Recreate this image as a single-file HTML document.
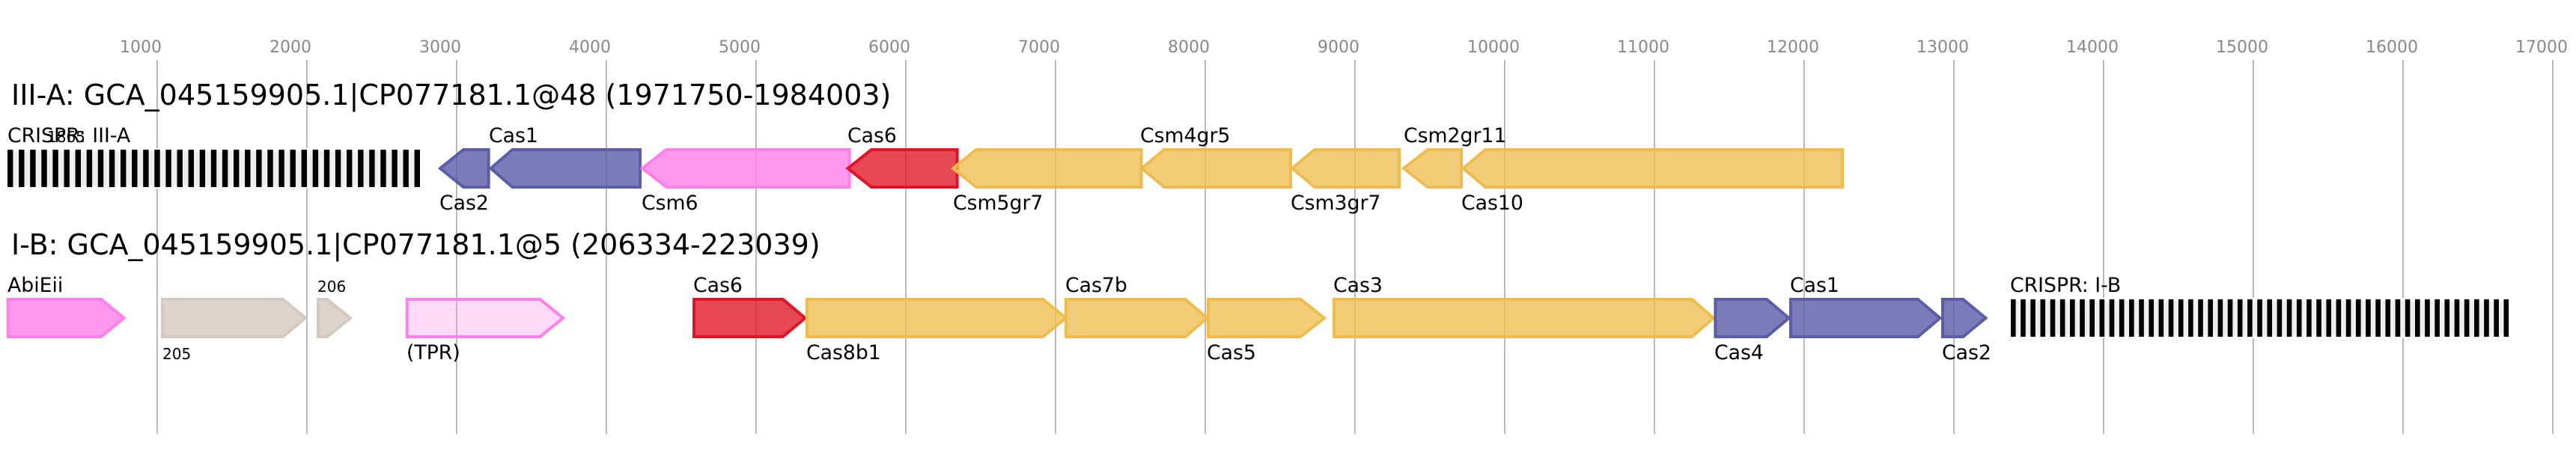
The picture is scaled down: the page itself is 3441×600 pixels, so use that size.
<!DOCTYPE html>
<html><head><meta charset="utf-8"><style>
html,body{margin:0;padding:0;background:#fff;width:3441px;height:600px;overflow:hidden}
svg{display:block}
text{font-family:"DejaVu Sans",sans-serif;fill:#000}
.t{font-size:22px;fill:#888}
.h{font-size:38px}
.l{font-size:26.7px}
.s{font-size:20px}
.g line{stroke:#bbb;stroke-width:2}
polygon{stroke-width:4;stroke-linejoin:miter}
.p{fill:rgba(85,88,165,.78);stroke:#5a5ea8}
.m{fill:rgba(255,128,232,.8);stroke:#ff80e8}
.r{fill:rgba(224,20,37,.78);stroke:#e01425}
.y{fill:rgba(239,188,76,.76);stroke:#efbc4c}
.b{fill:rgba(212,200,192,.8);stroke:#d4c8c0}
.w{fill:rgba(255,128,232,.3);stroke:#ff80e8}
</style></head><body>
<svg width="3441" height="600" viewBox="0 0 3441 600" xmlns="http://www.w3.org/2000/svg">
<g class="g">
<line x1="210" y1="80" x2="210" y2="580"/><line x1="410" y1="80" x2="410" y2="580"/><line x1="610" y1="80" x2="610" y2="580"/><line x1="810" y1="80" x2="810" y2="580"/><line x1="1010" y1="80" x2="1010" y2="580"/><line x1="1210" y1="80" x2="1210" y2="580"/><line x1="1410" y1="80" x2="1410" y2="580"/><line x1="1610" y1="80" x2="1610" y2="580"/><line x1="1810" y1="80" x2="1810" y2="580"/><line x1="2010" y1="80" x2="2010" y2="580"/><line x1="2210" y1="80" x2="2210" y2="580"/><line x1="2410" y1="80" x2="2410" y2="580"/><line x1="2610" y1="80" x2="2610" y2="580"/><line x1="2810" y1="80" x2="2810" y2="580"/><line x1="3010" y1="80" x2="3010" y2="580"/><line x1="3210" y1="80" x2="3210" y2="580"/><line x1="3410" y1="80" x2="3410" y2="580"/>
</g>
<text class="t" x="160" y="70">1000</text><text class="t" x="360" y="70">2000</text><text class="t" x="560" y="70">3000</text><text class="t" x="760" y="70">4000</text><text class="t" x="960" y="70">5000</text><text class="t" x="1160" y="70">6000</text><text class="t" x="1360" y="70">7000</text><text class="t" x="1560" y="70">8000</text><text class="t" x="1760" y="70">9000</text><text class="t" x="1960" y="70">10000</text><text class="t" x="2160" y="70">11000</text><text class="t" x="2360" y="70">12000</text><text class="t" x="2560" y="70">13000</text><text class="t" x="2760" y="70">14000</text><text class="t" x="2960" y="70">15000</text><text class="t" x="3160" y="70">16000</text><text class="t" x="3360" y="70">17000</text>

<text class="h" x="15" y="140">III-A: GCA_045159905.1|CP077181.1@48 (1971750-1984003)</text>
<text class="h" x="15" y="340">I-B: GCA_045159905.1|CP077181.1@5 (206334-223039)</text>

<rect x="10" y="200" width="551" height="50" fill="#eee" stroke="#fff" stroke-width="4"/>
<line x1="10" y1="225" x2="561" y2="225" stroke="#000" stroke-width="50" stroke-dasharray="7.4 7.7"/>
<text class="l" x="10" y="190">CRISPR: III-A</text>
<text class="s" x="63" y="190">1865</text>

<polygon class="p" points="652.6,200 619,200 588,225 619,250 652.6,250"/>
<polygon class="p" points="855,200 684.4,200 655.6,225 684.4,250 855,250"/>
<polygon class="m" points="1134.7,200 890,200 858,225 890,250 1134.7,250"/>
<polygon class="r" points="1278.6,200 1164,200 1132.6,225 1164,250 1278.6,250"/>
<polygon class="y" points="1524.5,200 1304,200 1273,225 1304,250 1524.5,250"/>
<polygon class="y" points="1724,200 1555,200 1525,225 1555,250 1724,250"/>
<polygon class="y" points="1869,200 1756,200 1726,225 1756,250 1869,250"/>
<polygon class="y" points="1952,200 1907,200 1875,225 1907,250 1952,250"/>
<polygon class="y" points="2461,200 1984,200 1954.5,225 1984,250 2461,250"/>

<text class="l" x="587" y="280">Cas2</text>
<text class="l" x="653" y="190">Cas1</text>
<text class="l" x="857" y="280">Csm6</text>
<text class="l" x="1132" y="190">Cas6</text>
<text class="l" x="1273" y="280">Csm5gr7</text>
<text class="l" x="1523" y="190">Csm4gr5</text>
<text class="l" x="1724" y="280">Csm3gr7</text>
<text class="l" x="1875" y="190">Csm2gr11</text>
<text class="l" x="1952" y="280">Cas10</text>

<polygon class="m" points="10.7,400 135.3,400 165.5,425 135.3,450 10.7,450"/>
<polygon class="b" points="217,400 378,400 408,425 378,450 217,450"/>
<polygon class="b" points="425,400 437,400 468,425 437,450 425,450"/>
<polygon class="w" points="543.8,400 721.3,400 752,425 721.3,450 543.8,450"/>
<polygon class="r" points="927,400 1045.7,400 1075.5,425 1045.7,450 927,450"/>
<polygon class="y" points="1078,400 1393.3,400 1423.5,425 1393.3,450 1078,450"/>
<polygon class="y" points="1424,400 1583.3,400 1612.5,425 1583.3,450 1424,450"/>
<polygon class="y" points="1614,400 1737.3,400 1769,425 1737.3,450 1614,450"/>
<polygon class="y" points="1782,400 2260,400 2289,425 2260,450 1782,450"/>
<polygon class="p" points="2291.4,400 2360,400 2389.5,425 2360,450 2291.4,450"/>
<polygon class="p" points="2392,400 2562,400 2591.5,425 2562,450 2392,450"/>
<polygon class="p" points="2595,400 2622.3,400 2652.5,425 2622.3,450 2595,450"/>

<rect x="2686" y="400" width="665.6" height="50" fill="#eee" stroke="#fff" stroke-width="4"/>
<line x1="2686" y1="425" x2="3351.6" y2="425" stroke="#000" stroke-width="50" stroke-dasharray="6.6 6.57"/>

<text class="l" x="10" y="390">AbiEii</text>
<text class="s" x="217" y="480">205</text>
<text class="s" x="424" y="390">206</text>
<text class="l" x="543" y="480">(TPR)</text>
<text class="l" x="926" y="390">Cas6</text>
<text class="l" x="1077" y="480">Cas8b1</text>
<text class="l" x="1423" y="390">Cas7b</text>
<text class="l" x="1612" y="480">Cas5</text>
<text class="l" x="1781" y="390">Cas3</text>
<text class="l" x="2290" y="480">Cas4</text>
<text class="l" x="2391" y="390">Cas1</text>
<text class="l" x="2594" y="480">Cas2</text>
<text class="l" x="2685" y="390">CRISPR: I-B</text>
</svg>
</body></html>
